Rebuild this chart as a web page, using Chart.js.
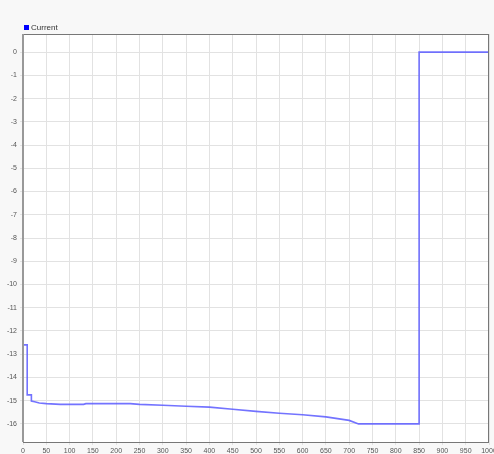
<!DOCTYPE html>
<html lang="en">
<head>
    <meta charset="UTF-8">
    <title>Current</title>
    <script src="https://cdn.jsdelivr.net/npm/chart.js"></script>
    <style>
        html, body { margin: 0; padding: 0; background: #f8f8f8; }
        #wrap { width: 494px; height: 454px; position: relative; }
    </style>
</head>
<body>
    <div id="wrap">
        <canvas id="grafico"></canvas>
    </div>

<script>
    // valores (x = tempo, y = corrente)
    const tempos = [0, 9, 9, 18, 18, 25, 35, 50, 80, 130, 135, 230, 250, 300, 350, 400, 450, 500, 550, 600, 650, 700, 720, 850, 850, 1000];
    const correntes = [-12.6, -12.6, -14.75, -14.75, -15.02, -15.05, -15.1, -15.13, -15.16, -15.16, -15.13, -15.13, -15.16, -15.2, -15.24, -15.28, -15.37, -15.46, -15.54, -15.61, -15.7, -15.85, -16, -16, 0, 0];
    const rotuloSerie = 'Current';
    const yMin = -16.78;
    const yMax = 0.78;

    let pontos = [];
    for (let i = 0; i < tempos.length; i++) {
        pontos.push({ x: tempos[i], y: correntes[i] });
    }

    // fundo branco, moldura da area do grafico e legenda
    const moldura = {
        id: 'moldura',
        beforeDraw(chart) {
            const a = chart.chartArea;
            const ctx = chart.ctx;
            ctx.save();
            ctx.fillStyle = '#ffffff';
            ctx.fillRect(a.left, a.top, a.right - a.left, a.bottom - a.top);
            ctx.restore();
        },
        afterDraw(chart) {
            const a = chart.chartArea;
            const ctx = chart.ctx;
            ctx.save();
            ctx.strokeStyle = '#777777';
            ctx.lineWidth = 1;
            ctx.strokeRect(a.left + 0.5, a.top + 0.5, a.right - a.left - 1, a.bottom - a.top);
            ctx.strokeStyle = '#999999';
            ctx.lineWidth = 2;
            ctx.beginPath();
            ctx.moveTo(a.left, a.top);
            ctx.lineTo(a.left, a.bottom);
            ctx.stroke();

            // legenda
            ctx.fillStyle = '#0000ff';
            ctx.fillRect(a.left + 1, a.top - 9, 5, 5);
            ctx.fillStyle = '#333333';
            ctx.font = '8px "Liberation Sans", Arial';
            ctx.textBaseline = 'middle';
            ctx.fillText(chart.data.datasets[0].label, a.left + 8, a.top - 6.5);
            ctx.restore();
        }
    };

    const config = {
        type: 'line',
        data: {
            datasets: [{
                label: rotuloSerie,
                data: pontos,
                borderColor: 'rgba(90, 90, 255, 0.85)',
                backgroundColor: '#0000ff',
                borderWidth: 1.6,
                pointRadius: 0,
                fill: false,
                tension: 0
            }]
        },
        options: {
            responsive: true,
            maintainAspectRatio: false,
            animation: false,
            layout: { padding: { left: 0, right: 5, top: 34, bottom: 0 } },
            plugins: {
                tooltip: { enabled: false },
                legend: { display: false }
            },
            scales: {
                x: {
                    type: 'linear',
                    min: 0,
                    max: 1000,
                    ticks: {
                        stepSize: 50,
                        color: '#555',
                        padding: 2,
                        maxRotation: 0,
                        font: { family: 'Liberation Sans, Arial', size: 7 },
                        callback: function (v) { return String(v); }
                    },
                    grid: { color: '#e2e2e2', drawTicks: true, tickLength: 3 },
                    border: { display: false },
                    afterFit: function (scale) {
                        scale.height = 12;
                        scale.paddingLeft = 0;
                        scale.paddingRight = 0;
                    }
                },
                y: {
                    type: 'linear',
                    min: yMin,
                    max: yMax,
                    afterBuildTicks: function (scale) {
                        let t = [];
                        for (let v = -16; v <= 0; v++) t.push({ value: v });
                        scale.ticks = t;
                    },
                    ticks: {
                        color: '#555',
                        padding: 3,
                        font: { family: 'Liberation Sans, Arial', size: 7 }
                    },
                    grid: { color: '#e2e2e2', drawTicks: true, tickLength: 3 },
                    border: { display: false },
                    afterFit: function (scale) {
                        scale.width = 23;
                        scale.paddingTop = 0;
                        scale.paddingBottom = 0;
                    }
                }
            }
        },
        plugins: [moldura]
    };

    let meuGrafico = new Chart(document.getElementById('grafico'), config);
</script>
</body>
</html>
